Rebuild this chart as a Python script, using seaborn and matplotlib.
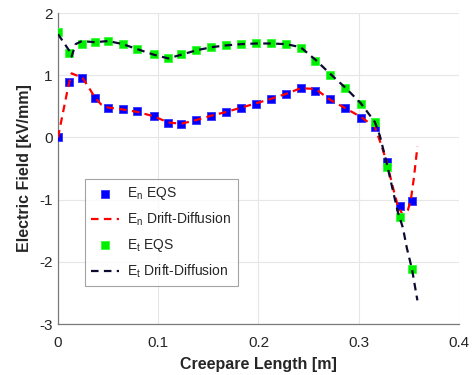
"""Electric field along the creepage length: EQS vs drift-diffusion
"""

import matplotlib
matplotlib.use("Agg")
import matplotlib.pyplot as plt
import seaborn as sns
import pandas as pd
import numpy as np

sns.set_style("white")
plt.rcParams['font.family'] = ['Liberation Sans', 'DejaVu Sans']
plt.rcParams['axes.unicode_minus'] = False
plt.rcParams['mathtext.fontset'] = 'custom'
plt.rcParams['mathtext.rm'] = 'Liberation Sans'

# EQS samples (markers)
x_eqs = [0.000, 0.011, 0.024, 0.037, 0.050, 0.0645, 0.079, 0.0955, 0.110, 0.123,
         0.138, 0.153, 0.168, 0.183, 0.198, 0.2125, 0.2275, 0.242, 0.2567, 0.271,
         0.2866, 0.302, 0.316, 0.328, 0.341, 0.353]
en_eqs = [0.01, 0.89, 0.96, 0.64, 0.48, 0.455, 0.43, 0.35, 0.23, 0.21,
          0.28, 0.35, 0.41, 0.48, 0.545, 0.62, 0.70, 0.79, 0.74, 0.62,
          0.47, 0.32, 0.16, -0.39, -1.11, -1.03]
et_eqs = [1.69, 1.355, 1.50, 1.53, 1.55, 1.50, 1.42, 1.34, 1.27, 1.34,
          1.40, 1.46, 1.49, 1.50, 1.52, 1.52, 1.50, 1.44, 1.23, 1.01,
          0.79, 0.535, 0.24, -0.47, -1.28, -2.11]

# Drift-diffusion curves (dashed)
x_dd_n = [0.000, 0.005, 0.010, 0.0136, 0.018, 0.024, 0.030, 0.037, 0.043, 0.050,
          0.0645, 0.079, 0.0955, 0.110, 0.123, 0.138, 0.153, 0.168, 0.183, 0.198,
          0.2125, 0.2275, 0.242, 0.2567, 0.271, 0.2866, 0.302, 0.316, 0.322, 0.328,
          0.334, 0.339, 0.344, 0.349, 0.352, 0.355, 0.3585]
en_dd = [0.00, 0.40, 0.80, 1.03, 1.00, 0.97, 0.82, 0.64, 0.53, 0.48,
         0.45, 0.41, 0.34, 0.24, 0.22, 0.28, 0.35, 0.41, 0.48, 0.55,
         0.62, 0.70, 0.79, 0.78, 0.61, 0.47, 0.33, 0.17, -0.10, -0.40,
         -0.80, -1.10, -1.25, -1.17, -1.00, -0.65, -0.15]

x_dd_t = [0.000, 0.006, 0.011, 0.0136, 0.0176, 0.024, 0.030, 0.037, 0.050, 0.0645,
          0.079, 0.0955, 0.110, 0.123, 0.138, 0.153, 0.168, 0.183, 0.198, 0.2125,
          0.2275, 0.242, 0.2567, 0.271, 0.2866, 0.302, 0.316, 0.321, 0.328, 0.334,
          0.339, 0.344, 0.348, 0.353, 0.3585]
et_dd = [1.66, 1.52, 1.40, 1.30, 1.50, 1.55, 1.54, 1.53, 1.55, 1.50,
         1.42, 1.33, 1.27, 1.33, 1.40, 1.45, 1.48, 1.50, 1.51, 1.51,
         1.50, 1.45, 1.25, 1.03, 0.80, 0.55, 0.25, 0.03, -0.42, -0.85,
         -1.20, -1.45, -1.78, -2.11, -2.62]

eqs = pd.DataFrame({'x': x_eqs, 'En': en_eqs, 'Et': et_eqs})
dd_n = pd.DataFrame({'x': x_dd_n, 'En': en_dd})
dd_t = pd.DataFrame({'x': x_dd_t, 'Et': et_dd})

fig = plt.figure(figsize=(4.76, 3.75), dpi=100)
ax = fig.add_axes([0.1218, 0.136, 0.8425, 0.8293])

dash = (0, (3.4, 2.4))
sns.scatterplot(data=eqs, x='x', y='En', marker='s', s=40, color='#0000ff',
                edgecolor='#3333ff', linewidth=0.6, label=r'E$_\mathregular{n}$ EQS',
                ax=ax, zorder=3)
sns.lineplot(data=dd_n, x='x', y='En', sort=False, estimator=None, color='#ff0000',
             linewidth=1.6, linestyle=dash, label=r'E$_\mathregular{n}$ Drift-Diffusion',
             ax=ax, zorder=4)
sns.scatterplot(data=eqs, x='x', y='Et', marker='s', s=40, color='#00ee00',
                edgecolor='#33ff33', linewidth=0.6, label=r'E$_\mathregular{t}$ EQS',
                ax=ax, zorder=5)
sns.lineplot(data=dd_t, x='x', y='Et', sort=False, estimator=None, color='#0b0b30',
             linewidth=1.6, linestyle=dash, label=r'E$_\mathregular{t}$ Drift-Diffusion',
             ax=ax, zorder=6)

ax.set_xlim(0, 0.4)
ax.set_ylim(-3, 2)
ax.set_xticks([0, 0.1, 0.2, 0.3, 0.4])
ax.set_xticklabels(['0', '0.1', '0.2', '0.3', '0.4'])
ax.set_yticks([-3, -2, -1, 0, 1, 2])
ax.set_yticklabels(['-3', '-2', '-1', '0', '1', '2'])
ax.grid(True, color='#e6e6e6', linewidth=0.8)
ax.set_axisbelow(True)
for s in ['top', 'right']:
    ax.spines[s].set_visible(False)
for s in ['left', 'bottom']:
    ax.spines[s].set_color('#7a7a7a')
    ax.spines[s].set_linewidth(0.9)
ax.tick_params(direction='in', length=3, color='#7a7a7a', labelsize=11,
               labelcolor='#262626')
ax.tick_params(axis='x', pad=8.5)
ax.tick_params(axis='y', pad=4)

ax.set_xlabel('Creepare Length [m]', fontsize=11.5, fontweight='bold', color='#262626', labelpad=5)
ax.set_ylabel('Electric Field [kV/mm]', fontsize=11.5, fontweight='bold', color='#262626', labelpad=5)

leg = ax.legend(loc='upper left', bbox_to_anchor=(0.067, 0.466), borderaxespad=0,
                fontsize=10, frameon=True, fancybox=False, handlelength=2.0,
                handletextpad=0.6, labelspacing=0.62, borderpad=0.45)
leg.get_frame().set_edgecolor('#8c8c8c')
leg.get_frame().set_linewidth(0.8)

fig.savefig('out.png', dpi=100)
